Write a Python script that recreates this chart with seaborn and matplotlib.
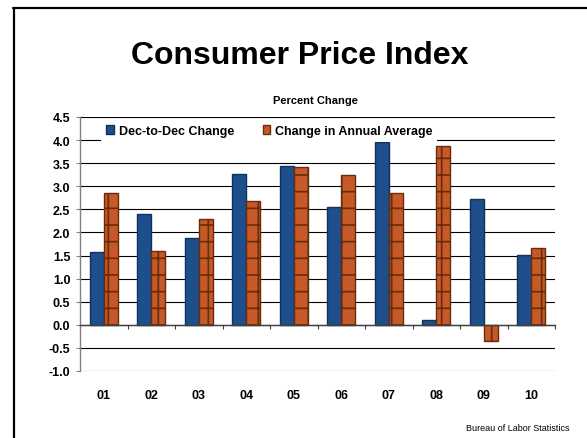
import numpy as np
import pandas as pd
import matplotlib
matplotlib.use('Agg')
import matplotlib.pyplot as plt
from matplotlib.patches import Patch
from matplotlib.lines import Line2D
from matplotlib.ticker import FormatStrFormatter
import seaborn as sns

# CPI percent change by year
years = ['01', '02', '03', '04', '05', '06', '07', '08', '09', '10']
dec_to_dec = [1.57, 2.40, 1.89, 3.27, 3.43, 2.55, 3.95, 0.10, 2.73, 1.51]
annual_avg = [2.86, 1.59, 2.29, 2.68, 3.41, 3.24, 2.86, 3.87, -0.36, 1.66]
series = ['Dec-to-Dec Change', 'Change in Annual Average']
y_ticks = np.arange(-1.0, 4.51, 0.5)

blue, blue_edge = '#1F4E8C', '#123159'
orange, orange_edge = '#C55A28', '#6A2A0C'

df = pd.DataFrame({
    'year': years * 2,
    'change': dec_to_dec + annual_avg,
    'series': [series[0]] * len(years) + [series[1]] * len(years),
})

sns.set_style('white')
plt.rcParams['font.family'] = ['Liberation Sans', 'DejaVu Sans']
plt.rcParams['text.color'] = 'black'
plt.rcParams['axes.unicode_minus'] = False
plt.rcParams['hatch.linewidth'] = 1.2

fig = plt.figure(figsize=(5.87, 4.39), dpi=100)
ax = fig.add_axes([80 / 587, 1 - 372 / 439, 475 / 587, 254 / 439])

sns.barplot(data=df, x='year', y='change', hue='series', palette=[blue, orange],
            width=0.59, saturation=1, legend=False, ax=ax)
for bar in ax.containers[0]:
    bar.set_edgecolor(blue_edge)
    bar.set_linewidth(1)
for bar in ax.containers[1]:
    bar.set_edgecolor(orange_edge)
    bar.set_linewidth(1)
    bar.set_hatch('+')

ax.set_ylim(-1.0, 4.5)
ax.set_xlim(-0.5, len(years) - 0.5)
ax.set_yticks(y_ticks)
ax.yaxis.set_major_formatter(FormatStrFormatter('%.1f'))
ax.set_xlabel('')
ax.set_ylabel('')

ax.yaxis.grid(True, color='black', lw=0.8)
ax.xaxis.grid(False)
ax.set_axisbelow(True)

for s in ['top', 'right']:
    ax.spines[s].set_visible(False)
ax.spines['left'].set_color('#808080')
ax.spines['left'].set_linewidth(1)
ax.spines['bottom'].set_position(('data', 0))
ax.spines['bottom'].set_color('#404040')
ax.spines['bottom'].set_linewidth(1)

ax.set_xticks(np.arange(-0.5, len(years), 1), minor=True)
ax.tick_params(axis='x', which='major', length=0, pad=46, labelsize=9, labelcolor='black')
ax.tick_params(axis='x', which='minor', length=3, width=0.8, color='#404040', direction='out')
ax.tick_params(axis='y', length=3, width=0.8, color='#808080', direction='out', pad=4,
               labelsize=9, labelcolor='black')
ax.tick_params(left=True, bottom=True, which='both')
for lab in ax.get_xticklabels() + ax.get_yticklabels():
    lab.set_fontweight('bold')

handles = [Patch(facecolor=blue, edgecolor=blue_edge), Patch(facecolor=orange, edgecolor=orange_edge)]
leg = ax.legend(handles=handles, labels=series, ncol=2, loc='upper left',
                bbox_to_anchor=(0.045, 0.988), frameon=True, fancybox=False,
                facecolor='white', edgecolor='none', framealpha=1,
                handlelength=0.6, handleheight=0.7, handletextpad=0.4,
                columnspacing=2.3, borderpad=0.38, borderaxespad=0,
                prop={'weight': 'bold', 'size': 9})
for t in leg.get_texts():
    t.set_color('black')

fig.text(300 / 587, 1 - 56 / 439, 'Consumer Price Index', ha='center', va='center',
         fontsize=23, fontweight='bold', color='black')
fig.text(315 / 587, 1 - 101 / 439, 'Percent Change', ha='center', va='center',
         fontsize=8, fontweight='bold', color='black')
fig.text(570 / 587, 1 - 429 / 439, 'Bureau of Labor Statistics', ha='right', va='center',
         fontsize=6.5, color='black')

# slide frame
fig.add_artist(Line2D([13 / 587, 1], [1 - 9 / 439, 1 - 9 / 439], color='black', lw=1.6,
                      transform=fig.transFigure))
fig.add_artist(Line2D([14 / 587, 14 / 587], [0, 1 - 9 / 439], color='black', lw=1.6,
                      transform=fig.transFigure))

fig.savefig('out.png', dpi=100)
